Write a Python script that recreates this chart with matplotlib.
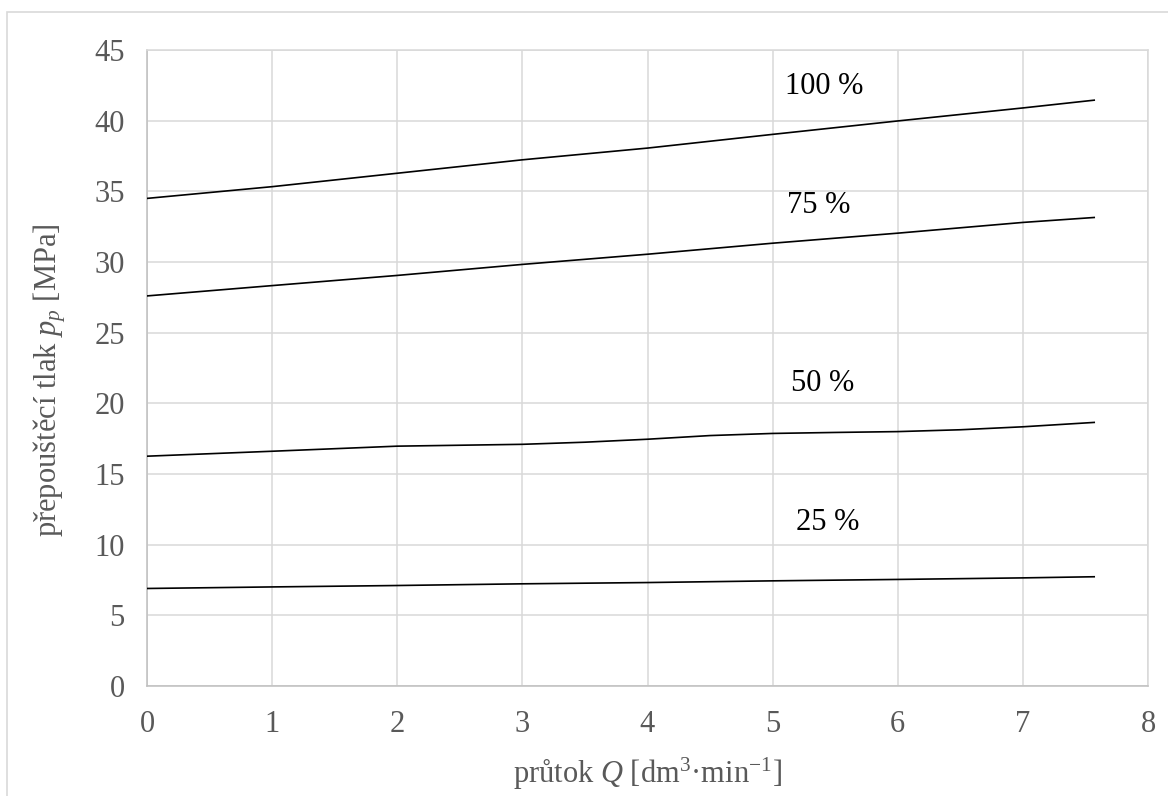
import matplotlib
matplotlib.use("Agg")
import matplotlib.pyplot as plt
from matplotlib.patches import Rectangle

# --- 데이터 ---
q_100 = [0, 1, 2, 3, 4, 5, 6, 7, 7.57]
p_100 = [34.5, 35.33, 36.28, 37.23, 38.06, 39.03, 39.98, 40.9, 41.45]

q_75 = [0, 1, 2, 3, 4, 5, 6, 7, 7.57]
p_75 = [27.6, 28.33, 29.05, 29.83, 30.55, 31.33, 32.04, 32.8, 33.15]

q_50 = [0, 1, 2, 3, 3.5, 4, 4.5, 5, 5.5, 6, 6.5, 7, 7.57]
p_50 = [16.26, 16.61, 16.97, 17.1, 17.25, 17.46, 17.72, 17.87, 17.94, 18.0, 18.13, 18.34, 18.65]

q_25 = [0, 1, 2, 3, 4, 5, 6, 7, 7.57]
p_25 = [6.9, 7.01, 7.11, 7.23, 7.32, 7.44, 7.54, 7.65, 7.73]

series_labels = ["100 %", "75 %", "50 %", "25 %"]
label_x = [5.41, 5.37, 5.40, 5.44]
label_y = [42.4, 34.0, 21.4, 11.6]

# --- 스타일 ---
plt.rcParams['font.family'] = ['Liberation Serif', 'DejaVu Serif']
plt.rcParams['mathtext.fontset'] = 'custom'
plt.rcParams['mathtext.rm'] = 'Liberation Serif'
plt.rcParams['mathtext.it'] = 'Liberation Serif:italic'

GRID = '#d9d9d9'
AXIS = '#bfbfbf'
TXT = '#595959'

fig = plt.figure(figsize=(11.68, 7.96), dpi=100)
ax = fig.add_axes([147 / 1168, 1 - 686 / 796, (1148 - 147) / 1168, (686 - 50) / 796])

# 바깥 차트 테두리 (위/왼쪽만 보임)
fig.patches.append(Rectangle((7 / 1168, -0.5), 2, 0.5 + 1 - 12 / 796,
                             transform=fig.transFigure, fill=False,
                             edgecolor=GRID, lw=1.2, clip_on=False))

for q, p in [(q_100, p_100), (q_75, p_75), (q_50, p_50), (q_25, p_25)]:
    ax.plot(q, p, color='black', lw=1.2, zorder=3)

for lab, x, y in zip(series_labels, label_x, label_y):
    ax.text(x, y, lab, fontsize=22, color='black', ha='center', va='center')

ax.set_xlim(0, 8)
ax.set_ylim(0, 45)
ax.set_xticks(range(0, 9))
ax.set_yticks(range(0, 46, 5))
ax.grid(True, color=GRID, lw=1.1)
ax.set_axisbelow(True)
ax.tick_params(length=0, labelsize=22, labelcolor=TXT)
ax.tick_params(axis='y', pad=16)
ax.tick_params(axis='x', pad=17)

for side in ['top', 'right']:
    ax.spines[side].set_color(GRID)
    ax.spines[side].set_linewidth(1.1)
for side in ['left', 'bottom']:
    ax.spines[side].set_color(AXIS)
    ax.spines[side].set_linewidth(1.1)

ax.set_xlabel('průtok $Q$ [dm$^{3}$·min$^{-1}$]', fontsize=22, color=TXT)
ax.set_ylabel('přepouštěcí tlak $p_p$ [MPa]', fontsize=22, color=TXT)
ax.xaxis.set_label_coords(0.5, -0.11)
ax.yaxis.set_label_coords(-0.079, 0.481)

fig.savefig('out.png', dpi=100)
